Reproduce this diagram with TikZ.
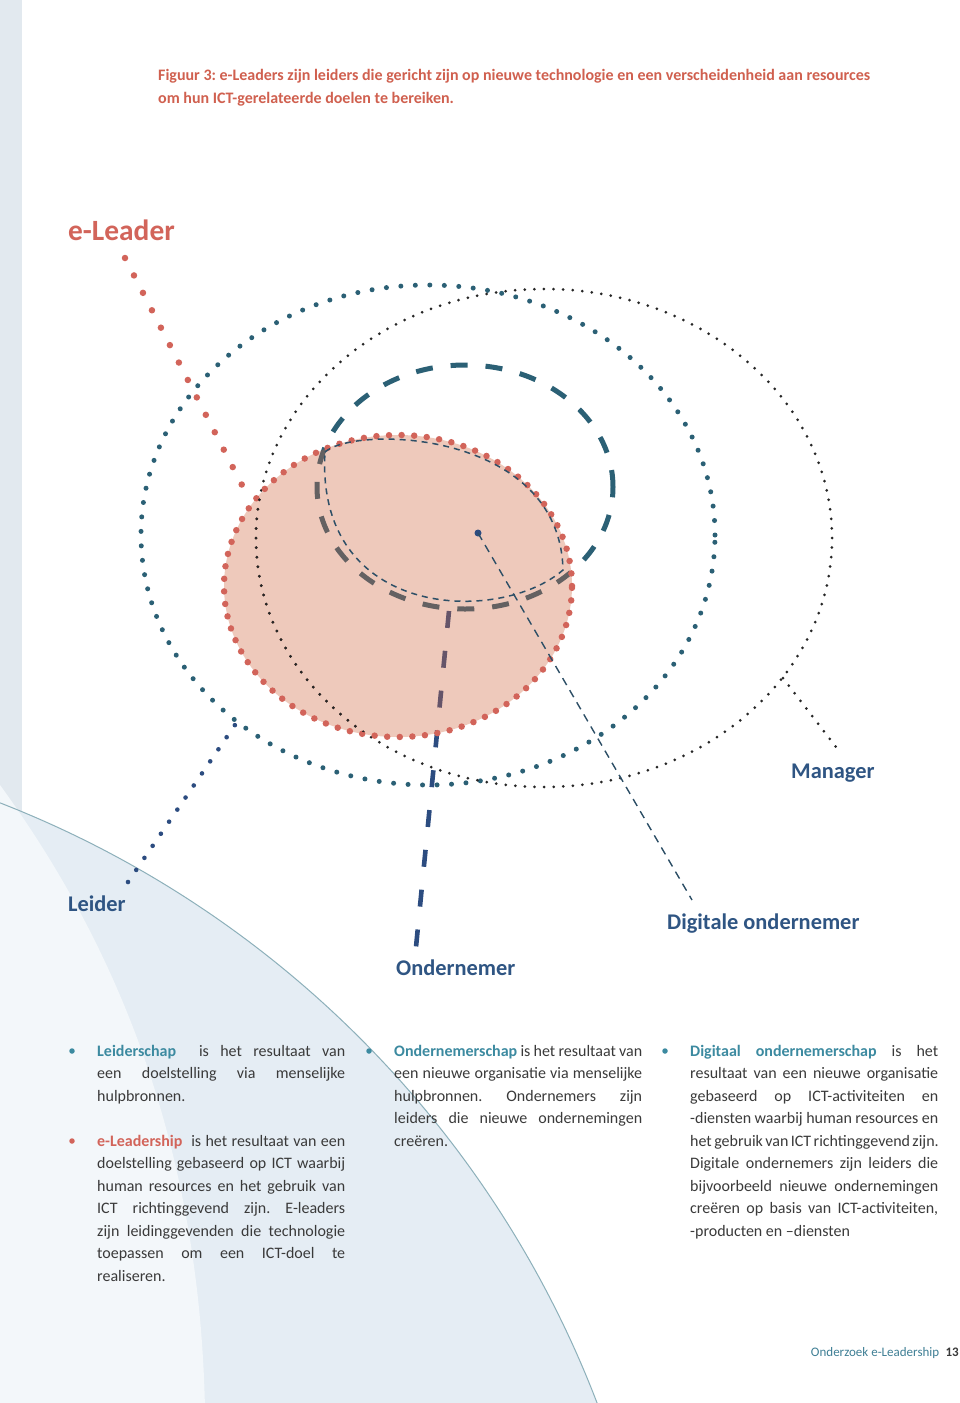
\documentclass[tikz,border=0pt]{standalone}
\usepackage{fontspec}
\setmainfont{Carlito}
\usetikzlibrary{calc}
\frenchspacing
\definecolor{tealc}{HTML}{2B6075}
\definecolor{navy}{HTML}{2C4C80}
\definecolor{labblue}{HTML}{2F5583}
\definecolor{redd}{HTML}{D2645A}
\definecolor{pinkf}{HTML}{D1653F}
\definecolor{titlered}{HTML}{D0604F}
\definecolor{txt}{HTML}{3A3A3A}
\definecolor{termteal}{HTML}{3C8AA0}
\definecolor{bgA}{HTML}{E5EDF4}
\definecolor{bgB}{HTML}{F3F7FA}
\definecolor{stripc}{HTML}{E2E9EF}
\definecolor{arcline}{HTML}{8DB0BA}
\definecolor{thinc}{HTML}{2D4F66}
\definecolor{footteal}{HTML}{3F7F95}
\newcommand{\jl}[1]{\makebox[248pt][s]{#1}}
\begin{document}
\begin{tikzpicture}[x=1pt,y=-1pt,
  tealdots/.style={draw=tealc, line width=5pt, line cap=round, dash pattern=on 0pt off 14.5pt},
  leiderdots/.style={draw=navy, line width=4.6pt, line cap=round, dash pattern=on 0pt off 14.6pt},
  blackdots/.style={draw=black!85, line width=3pt, line cap=round, dash pattern=on 0pt off 9.6pt},
  reddots/.style={draw=redd, line width=6.5pt, line cap=round, dash pattern=on 0pt off 12.6pt},
  redline/.style={draw=redd, line width=6.5pt, line cap=round, dash pattern=on 0pt off 19.6pt},
  thickdash/.style={draw=tealc, line width=5pt, dash pattern=on 17pt off 18pt},
  ondash/.style={draw=navy, line width=4.6pt, dash pattern=on 17pt off 23pt},
  thindash/.style={draw=thinc, line width=1.5pt, dash pattern=on 6pt off 5pt},
  digdash/.style={draw=thinc, line width=1.4pt, dash pattern=on 8pt off 6pt},
  biglabel/.style={font=\fontsize{22.4}{26}\selectfont\bfseries, text=labblue, inner sep=0pt, anchor=base west},
  titletxt/.style={font=\fontsize{16}{19}\selectfont\bfseries, text=titlered, inner sep=0pt, anchor=base west},
  bodytxt/.style={font=\fontsize{16}{19}\selectfont, text=txt, inner sep=0pt, anchor=base west},
  bulletdot/.style={circle, inner sep=0pt, minimum size=5.5pt}
]
\useasboundingbox (0,0) rectangle (960,1403);
\fill[white] (0,0) rectangle (960,1403);
% background
\begin{scope}
\clip (0,0) rectangle (960,1403);
\fill[stripc] (0,0) rectangle (22,830);
\fill[bgA] (-379,1777) circle [radius=1045pt];
\fill[bgB] (0,785) .. controls (120,950) and (200,1150) .. (205,1410) -- (0,1410) -- cycle;
\draw[arcline, line width=1pt] (-379,1777) circle [radius=1045pt];
\end{scope}

% title
\node[titletxt] (title1) at (158,80) {Figuur 3: e-Leaders zijn leiders die gericht zijn op nieuwe technologie en een verscheidenheid aan resources};
\node[titletxt] (title2) at (158,103) {om hun ICT-gerelateerde doelen te bereiken.};

% circles
\draw[tealdots] (428,535) ellipse [x radius=287pt, y radius=250pt];
\draw[blackdots] (544,538) ellipse [x radius=288pt, y radius=249pt];
\draw[thickdash] (465,487) ellipse [x radius=148pt, y radius=122pt];

% Ondernemer connector
\coordinate (onStart) at (449,611);
\coordinate (onEnd) at (416,947);
\draw[ondash] (onStart) -- (onEnd);

% red circle
\fill[pinkf, fill opacity=0.35] (398,586) ellipse [x radius=174pt, y radius=151pt];
\draw[reddots] (398,586) ellipse [x radius=174pt, y radius=151pt];
\begin{scope}
\clip (398,586) ellipse [x radius=172pt, y radius=149pt];
\draw[blackdots] (544,538) ellipse [x radius=288pt, y radius=249pt];
\end{scope}

% thin dashed oval
\coordinate (ovA) at (325,452);
\coordinate (ovB) at (563,570);
\draw[thindash] (ovA) .. controls (355,425) and (560,430) .. (ovB)
  .. controls (500,625) and (315,620) .. (ovA);

% Digitale ondernemer connector
\node[circle, fill=navy, inner sep=0pt, minimum size=7pt] (digDot) at (478,533) {};
\coordinate (digEnd) at (692,900);
\draw[digdash] (digDot.center) -- (digEnd);

% e-Leader connector
\coordinate (eStart) at (125,258);
\coordinate (eEnd) at (243,487);
\draw[redline] (eStart) -- (eEnd);

% Leider connector
\coordinate (lStart) at (128,882);
\coordinate (lEnd) at (237,722);
\draw[leiderdots] (lStart) -- (lEnd);

% Manager connector
\coordinate (mStart) at (783,678);
\coordinate (mEnd) at (839,751);
\draw[blackdots] (mStart) -- (mEnd);

% labels
\node[biglabel, text=redd, font=\fontsize{29.4}{33}\selectfont\bfseries] (lbEL) at (68,240) {e-Leader};
\node[biglabel] (lbMan) at (791,778) {Manager};
\node[biglabel] (lbLei) at (68,911) {Leider};
\node[biglabel] (lbDig) at (667,929) {Digitale ondernemer};
\node[biglabel] (lbOnd) at (396,975) {Ondernemer};

% column 1
\node[bulletdot, fill=termteal] (b1) at (72,1051) {};
\node[bodytxt] (c1a) at (97,1056) {\jl{\textcolor{termteal}{\bfseries Leiderschap}\ \ is het resultaat van}};
\node[bodytxt] (c1b) at (97,1078.5) {\jl{een doelstelling via menselijke}};
\node[bodytxt] (c1c) at (97,1101) {hulpbronnen.};
\node[bulletdot, fill=redd] (b2) at (72,1141) {};
\node[bodytxt] (c1d) at (97,1146) {\jl{\textcolor{redd}{\bfseries e-Leadership}\ \ is het resultaat van een}};
\node[bodytxt] (c1e) at (97,1168.5) {\jl{doelstelling gebaseerd op ICT waarbij}};
\node[bodytxt] (c1f) at (97,1191) {\jl{human resources en het gebruik van}};
\node[bodytxt] (c1g) at (97,1213.5) {\jl{ICT richtinggevend zijn. E-leaders}};
\node[bodytxt] (c1h) at (97,1236) {\jl{zijn leidinggevenden die technologie}};
\node[bodytxt] (c1i) at (97,1258.5) {\jl{toepassen om een ICT-doel te}};
\node[bodytxt] (c1j) at (97,1281) {realiseren.};

% column 2
\node[bulletdot, fill=termteal] (b3) at (369,1051) {};
\node[bodytxt] (c2a) at (394,1056) {\jl{\textcolor{termteal}{\bfseries Ondernemerschap} is het resultaat van}};
\node[bodytxt] (c2b) at (394,1078.5) {\jl{een nieuwe organisatie via menselijke}};
\node[bodytxt] (c2c) at (394,1101) {\jl{hulpbronnen. Ondernemers zijn}};
\node[bodytxt] (c2d) at (394,1123.5) {\jl{leiders die nieuwe ondernemingen}};
\node[bodytxt] (c2e) at (394,1146) {creëren.};

% column 3
\node[bulletdot, fill=termteal] (b4) at (665,1051) {};
\node[bodytxt] (c3a) at (690,1056) {\jl{\textcolor{termteal}{\bfseries Digitaal ondernemerschap} is het}};
\node[bodytxt] (c3b) at (690,1078.5) {\jl{resultaat van een nieuwe organisatie}};
\node[bodytxt] (c3c) at (690,1101) {\jl{gebaseerd op ICT-activiteiten en}};
\node[bodytxt] (c3d) at (690,1123.5) {\jl{-diensten waarbij human resources en}};
\node[bodytxt] (c3e) at (690,1146) {\jl{het gebruik van ICT richtinggevend zijn.}};
\node[bodytxt] (c3f) at (690,1168.5) {\jl{Digitale ondernemers zijn leiders die}};
\node[bodytxt] (c3g) at (690,1191) {\jl{bijvoorbeeld nieuwe ondernemingen}};
\node[bodytxt] (c3h) at (690,1213.5) {\jl{creëren op basis van ICT-activiteiten,}};
\node[bodytxt] (c3i) at (690,1236) {-producten en –diensten};

% footer
\node[inner sep=0pt, anchor=base east, font=\fontsize{13}{15}\selectfont\bfseries, text=txt] (pgno) at (959,1356) {13};
\node[inner sep=0pt, anchor=base east, font=\fontsize{13}{15}\selectfont, text=footteal] (foot) at ($(pgno.base west)+(-6,0)$) {Onderzoek e-Leadership};
\end{tikzpicture}
\end{document}
